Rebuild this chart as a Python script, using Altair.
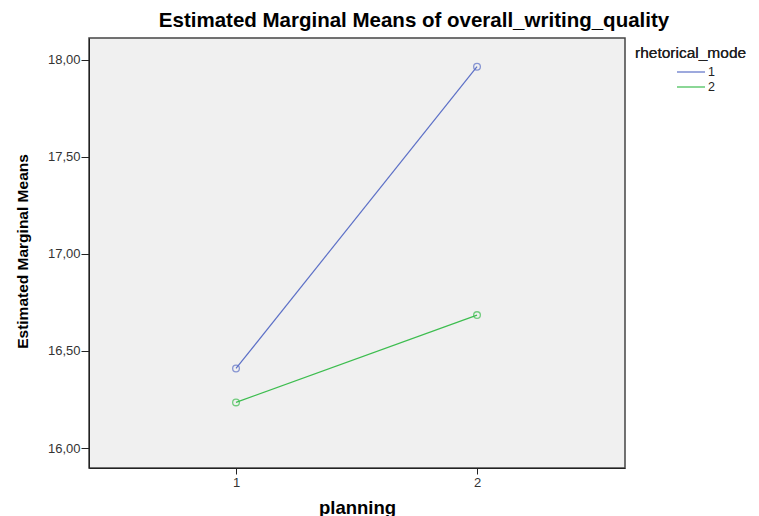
import altair as alt
import pandas as pd

planning = [1, 2]
series = ["1", "2"]
means_mode1 = [16.41, 17.965]
means_mode2 = [16.235, 16.685]
y_ticks = [16.0, 16.5, 17.0, 17.5, 18.0]
x_ticks = [1, 2]
colors = ["#5b6fc6", "#3dbd4f"]

rows = []
for p, v in zip(planning, means_mode1):
    rows.append({"planning": p, "mean": v, "rhetorical_mode": series[0]})
for p, v in zip(planning, means_mode2):
    rows.append({"planning": p, "mean": v, "rhetorical_mode": series[1]})
df = pd.DataFrame(rows)
leg = pd.DataFrame({"rhetorical_mode": series, "row": list(range(len(series)))})

color = alt.Color("rhetorical_mode:N", scale=alt.Scale(domain=series, range=colors), legend=None)

x = alt.X("planning:Q",
          scale=alt.Scale(domain=[0.39, 2.614], nice=False, zero=False),
          axis=alt.Axis(values=x_ticks, format="d", title="planning", grid=False,
                        titleFont="Liberation Sans", titleFontSize=18.5, titleFontWeight="bold",
                        titleColor="#000", titleY=45, titleBaseline="alphabetic",
                        labelFont="Liberation Sans", labelFontSize=13, labelColor="#333",
                        tickSize=6, labelPadding=2, domainColor="#222", tickColor="#222"))
y = alt.Y("mean:Q",
          scale=alt.Scale(domain=[15.897, 18.113], nice=False, zero=False),
          axis=alt.Axis(values=y_ticks, title="Estimated Marginal Means", grid=False,
                        labelExpr="replace(format(datum.value, '.2f'), '.', ',')",
                        titleFont="Liberation Sans", titleFontSize=15.5, titleFontWeight="bold",
                        titleColor="#000", titleX=-62, titleY=213, titleAngle=270,
                        titleBaseline="alphabetic", titleAlign="center",
                        labelFont="Liberation Sans", labelFontSize=13, labelColor="#333",
                        tickSize=8, labelPadding=1, domainColor="#222", tickColor="#222"))

lines = alt.Chart(df).mark_line(strokeWidth=1.2).encode(x=x, y=y, color=color, detail="rhetorical_mode:N")
points = alt.Chart(df).mark_point(filled=False, size=45, strokeWidth=1.3).encode(x=x, y=y, color=color)
main = alt.layer(lines, points)

ly = alt.Y("row:Q", scale=alt.Scale(domain=[0, 1], range=[34, 49], nice=False, zero=False), axis=None)
leg_lines = alt.Chart(leg).mark_rule(strokeWidth=1.2, clip=False).encode(
    x=alt.value(588), x2=alt.value(616), y=ly, color=color)
leg_text = alt.Chart(leg).mark_text(align="left", baseline="middle", font="Liberation Sans",
                                    fontSize=12.5, color="#222").encode(
    x=alt.value(619), y=ly, text="rhetorical_mode:N")
leg_title = alt.Chart(leg).mark_text(align="left", baseline="alphabetic", font="Liberation Sans",
                                     fontSize=15.5, color="#222", text="rhetorical_mode").encode(
    x=alt.value(546), y=alt.value(20))
legend_layer = alt.layer(leg_lines, leg_text, leg_title)

chart = alt.layer(main, legend_layer).resolve_scale(y="independent").properties(
    width=536, height=430,
    autosize=alt.AutoSizeParams(type="none"),
    padding={"left": 81, "top": 30, "right": 126, "bottom": 50},
    title=alt.Title("Estimated Marginal Means of overall_writing_quality",
                    font="Liberation Sans", fontSize=20.5, fontWeight="bold", color="#000",
                    anchor="middle", dx=57, offset=7),
    view=alt.ViewBackground(fill="#f0f0f0", stroke="#444", strokeWidth=1.5),
).configure_view(fill="#f0f0f0", stroke="#444", strokeWidth=1.5).configure(background="white")

chart.save("out.html", embed_options={"renderer": "svg", "actions": False})
